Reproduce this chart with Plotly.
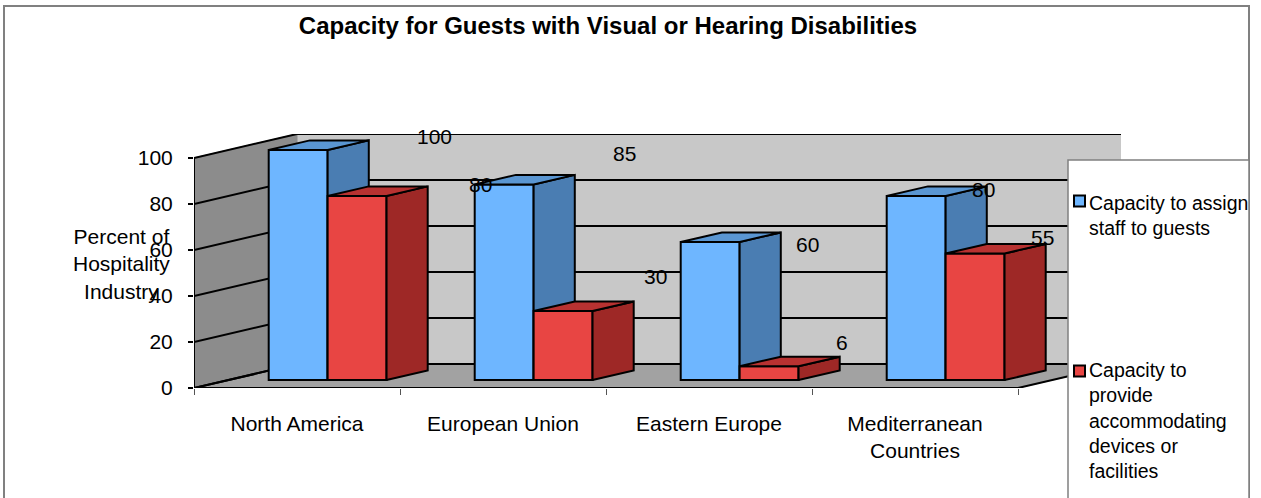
import plotly.graph_objects as go

# ---- data ----
categories = ["North America", "European Union", "Eastern Europe", "Mediterranean<br>Countries"]
assign_staff = [100, 85, 60, 80]
provide_devices = [80, 30, 6, 55]
series_names = ["Capacity to assign<br>staff to guests",
                "Capacity to<br>provide<br>accommodating<br>devices or<br>facilities"]
y_ticks = [0, 20, 40, 60, 80, 100]

# ---- oblique projection, in axis units ----
W, H = 1261, 498
PLOT_L, PLOT_R, PLOT_T, PLOT_B = 194, 1121, 134, 388
DEPTH_X, DEPTH_Y = 0.5, 10.39
T_FRONT, T_BACK = 1 / 3, 0.733
BAR_W = 0.286
GROUP_CENTER = 0.482
FONT = "Liberation Sans"
XMAX, YMAX = 4.5, 110.39
N = len(categories)

# pixel nudges of the data labels (the original labels are displaced)
blue_shift = [(66, -4), (50, -21), (27, 12), (-3, 3)]
red_shift = [(53, -2), (22, -25), (2, -14), (-3, -6)]

C_BLUE = ("#6EB6FF", "#4A7DB2", "#5A96D2")
C_RED = ("#E84543", "#9E2826", "#B83231")


def px(x):
    return (x - PLOT_L) / (PLOT_R - PLOT_L)


def py(y):
    return (PLOT_B - y) / (PLOT_B - PLOT_T)


def poly(xs, ys, fill, z, line="black", lw=2):
    return go.Scatter(x=xs + xs[:1], y=ys + ys[:1], mode="lines", fill="toself", fillcolor=fill,
                      line=dict(color=line, width=lw), hoverinfo="skip", showlegend=False,
                      cliponaxis=False, zorder=z)


fig = go.Figure()

# walls and floor
dx, dy = DEPTH_X, DEPTH_Y
fig.add_trace(poly([0.5, XMAX, XMAX, 0.5], [dy, dy, 100 + dy, 100 + dy], "#C8C8C8", 0, "#C8C8C8", 1))
fig.add_trace(poly([0, 0.5, 0.5, 0], [0, dy, 100 + dy, 100], "#8C8C8C", 0, "#8C8C8C", 1))
fig.add_trace(poly([0, N, XMAX, 0.5], [0, 0, dy, dy], "#A2A2A2", 0, "#A2A2A2", 1))

# gridlines on the walls
gx, gy = [], []
for v in y_ticks:
    gx += [0, 0.5, XMAX, None]
    gy += [v, v + dy, v + dy, None]
fig.add_trace(go.Scatter(x=gx, y=gy, mode="lines", line=dict(color="black", width=2),
                         hoverinfo="skip", showlegend=False, cliponaxis=False, zorder=0))
# floor edges and left wall edge
fig.add_trace(go.Scatter(x=[0.5, 0, N, XMAX, None, 0, 0], y=[dy, 0, 0, dy, None, 0, 100], mode="lines",
                         line=dict(color="black", width=2), hoverinfo="skip", showlegend=False,
                         cliponaxis=False, zorder=0))

base = T_FRONT * dy
d_x = (T_BACK - T_FRONT) * dx
d_y = (T_BACK - T_FRONT) * dy
shift_x = T_FRONT * dx

annotations = []
for s, (vals, cols, name, side, shifts) in enumerate([
    (assign_staff, C_BLUE, series_names[0], -1, blue_shift),
    (provide_devices, C_RED, series_names[1], 1, red_shift),
]):
    z0 = 1 + 2 * s
    centers = [i + GROUP_CENTER + shift_x + side * BAR_W / 2 for i in range(N)]
    fig.add_trace(go.Bar(x=centers, y=vals, base=[base] * N, width=BAR_W, name=name.replace("<br>", " "),
                         marker=dict(color=cols[0], line=dict(color="black", width=2)),
                         showlegend=False, hoverinfo="y", zorder=z0))
    for c, v, (ox, oy) in zip(centers, vals, shifts):
        l, r = c - BAR_W / 2, c + BAR_W / 2
        top = base + v
        fig.add_trace(poly([r, r + d_x, r + d_x, r], [base, base + d_y, top + d_y, top], cols[1], z0 + 1))
        fig.add_trace(poly([l, r, r + d_x, l + d_x], [top, top, top + d_y, top + d_y], cols[2], z0 + 1))
        annotations.append(dict(x=r + d_x, y=top + d_y, xref="x", yref="y", text=str(v), showarrow=False,
                                xshift=ox, yshift=-oy, font=dict(size=21, color="black", family=FONT)))

# axis title, placed beside the ticks as in the original
annotations.append(dict(x=px(121), y=py(264), xref="paper", yref="paper", xanchor="center", yanchor="middle",
                        showarrow=False, align="center",
                        text="Percent of<br>Hospitality<br>Industry", font=dict(size=21, color="black", family=FONT)))

# legend
shapes = [
    dict(type="rect", xref="paper", yref="paper", x0=px(4), x1=px(1249), y0=py(6), y1=py(560),
         line=dict(color="#808080", width=2), fillcolor="rgba(0,0,0,0)", layer="below"),
    dict(type="rect", xref="paper", yref="paper", x0=px(1068), x1=px(1249), y0=py(160), y1=py(560),
         line=dict(color="#808080", width=1.5), fillcolor="white", layer="above"),
]
for name, col, y_sw, y_mid in [(series_names[0], C_BLUE[0], 201, 215), (series_names[1], C_RED[0], 371, 420)]:
    shapes.append(dict(type="rect", xref="paper", yref="paper", x0=px(1074), x1=px(1085), y0=py(y_sw - 5.5),
                       y1=py(y_sw + 5.5), line=dict(color="black", width=2), fillcolor=col, layer="above"))
    annotations.append(dict(x=px(1086.5), y=py(y_mid), xref="paper", yref="paper", xanchor="left", yanchor="middle",
                            align="left", showarrow=False, text=name,
                            font=dict(size=19.5, color="black", family=FONT)))

fig.update_layout(
    width=W, height=H, autosize=False, barmode="overlay", showlegend=False,
    paper_bgcolor="white", plot_bgcolor="white",
    margin=dict(l=PLOT_L, r=W - PLOT_R, t=PLOT_T, b=H - PLOT_B, pad=0, autoexpand=False),
    title=dict(text="<b>Capacity for Guests with Visual or Hearing Disabilities</b>", x=608 / W, xanchor="center",
               y=1 - 26 / H, yanchor="middle", font=dict(size=24, color="black", family=FONT)),
    font=dict(family=FONT, color="black", size=21),
    xaxis=dict(range=[0, XMAX], tickmode="array", tickvals=[i + 0.5 for i in range(N)], ticktext=categories,
               ticks="", showgrid=False, zeroline=False, showline=False, ticklabelstandoff=21,
               tickfont=dict(size=21, color="black", family=FONT),
               minor=dict(tickmode="array", tickvals=list(range(N + 1)), ticks="outside", ticklen=6,
                          tickwidth=1, tickcolor="#555555", showgrid=False)),
    yaxis=dict(range=[0, YMAX], tickmode="array", tickvals=y_ticks, ticks="outside", ticklen=5, tickwidth=2,
               tickcolor="black", showgrid=False, zeroline=False, showline=False, ticklabelstandoff=11,
               tickfont=dict(size=21, color="black", family=FONT)),
    annotations=annotations,
    shapes=shapes,
)

fig.write_html("out.html", config={"displayModeBar": False}, post_script="document.body.style.margin='0';")
